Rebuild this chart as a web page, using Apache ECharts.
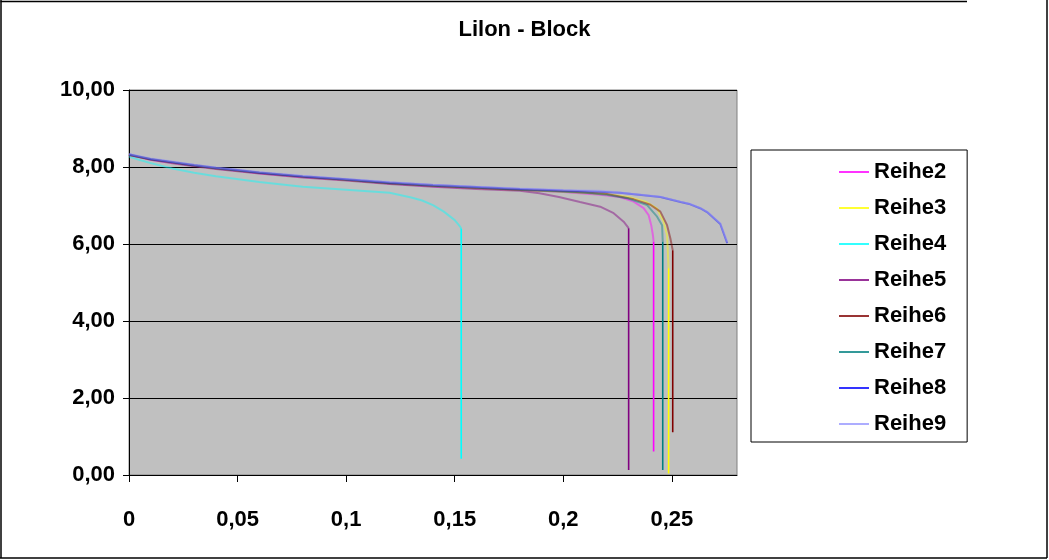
<!DOCTYPE html>
<html>
<head>
<meta charset="utf-8">
<script src="https://cdn.jsdelivr.net/npm/echarts@6/dist/echarts.min.js"></script>
<style>
html,body{margin:0;padding:0;background:#fff;}
#chart{width:1049px;height:560px;}
</style>
</head>
<body>
<div id="chart"></div>
<script>
// ---- data ----
const seriesNames = ['Reihe2','Reihe3','Reihe4','Reihe5','Reihe6','Reihe7','Reihe8','Reihe9'];
const seriesColors = ['#FF00FF','#FFFF00','#00FFFF','#800080','#800000','#008080','#0000FF','#9999FF'];

const r2x = [0,0.005,0.01,0.02,0.03,0.04,0.05,0.06,0.08,0.10,0.12,0.14,0.16,0.18,0.20,0.2076,0.217,0.226,0.2324,0.237,0.2393,0.2405,0.2413,0.2416];
const r2y = [8.31,8.25,8.19,8.11,8.03,7.96,7.90,7.84,7.74,7.66,7.57,7.50,7.45,7.40,7.35,7.32,7.28,7.22,7.10,6.93,6.75,6.49,6.22,6.06];
const r2drop = 0.61;

const r3x = [0,0.005,0.01,0.02,0.03,0.04,0.05,0.06,0.08,0.10,0.12,0.14,0.16,0.18,0.20,0.21,0.22,0.23,0.238,0.2432,0.2462,0.2478,0.2485];
const r3y = [8.32,8.26,8.20,8.12,8.04,7.97,7.91,7.85,7.75,7.66,7.58,7.51,7.45,7.40,7.36,7.33,7.29,7.22,7.10,6.92,6.58,6.23,5.37];
const r3drop = 0.04;

const r4x = [0,0.005,0.01,0.02,0.03,0.04,0.06,0.08,0.10,0.12,0.13,0.135,0.14,0.145,0.15,0.1525,0.153];
const r4y = [8.27,8.18,8.10,7.96,7.85,7.76,7.61,7.49,7.41,7.33,7.21,7.13,7.01,6.84,6.62,6.45,6.40];
const r4drop = 0.42;

const r5x = [0,0.005,0.01,0.02,0.03,0.04,0.05,0.06,0.08,0.10,0.12,0.14,0.16,0.18,0.189,0.198,0.2077,0.217,0.2232,0.2278,0.2301];
const r5y = [8.31,8.25,8.19,8.10,8.02,7.95,7.89,7.83,7.73,7.65,7.56,7.49,7.43,7.38,7.32,7.22,7.09,6.97,6.80,6.58,6.41];
const r5drop = 0.13;

const r6x = [0,0.005,0.01,0.02,0.03,0.04,0.05,0.06,0.08,0.10,0.12,0.14,0.16,0.18,0.20,0.21,0.22,0.2324,0.2401,0.2447,0.2478,0.2493,0.2504];
const r6y = [8.32,8.26,8.20,8.12,8.04,7.97,7.91,7.85,7.75,7.67,7.58,7.51,7.46,7.41,7.37,7.34,7.30,7.16,7.02,6.84,6.49,6.15,5.84];
const r6drop = 1.11;

const r7x = [0,0.005,0.01,0.02,0.03,0.04,0.05,0.06,0.08,0.10,0.12,0.14,0.16,0.18,0.20,0.21,0.22,0.23,0.2386,0.2432,0.2455,0.2458];
const r7y = [8.32,8.26,8.20,8.12,8.04,7.97,7.91,7.85,7.75,7.67,7.58,7.51,7.46,7.41,7.36,7.33,7.28,7.18,7.01,6.71,6.49,6.06];
const r7drop = 0.13;

const r8x = [0,0.005,0.01,0.02,0.03,0.04,0.05,0.06,0.08,0.10,0.12,0.14,0.16,0.18,0.20,0.217,0.226,0.2447,0.254,0.2585,0.263,0.2662,0.2723,0.2755];
const r8y = [8.33,8.27,8.21,8.13,8.05,7.98,7.92,7.86,7.76,7.68,7.60,7.53,7.48,7.43,7.39,7.36,7.33,7.22,7.09,7.03,6.93,6.83,6.52,6.02];
const r8drop = null;

const r9x = [0,0.005,0.01,0.02,0.03,0.04,0.05,0.06,0.08,0.10,0.12,0.14,0.16,0.18,0.20,0.217,0.226,0.2447,0.254,0.2585,0.263,0.2662,0.2723,0.2755];
const r9y = [8.34,8.28,8.22,8.14,8.06,7.99,7.93,7.87,7.77,7.69,7.61,7.54,7.49,7.44,7.40,7.38,7.34,7.23,7.10,7.04,6.94,6.84,6.54,6.06];
const r9drop = null;

const xTicks = [0,0.05,0.1,0.15,0.2,0.25];
const xTickLabels = ['0','0,05','0,1','0,15','0,2','0,25'];
const yTicks = [0,2,4,6,8,10];
const yTickLabels = ['0,00','2,00','4,00','6,00','8,00','10,00'];
const titleText = 'Lilon - Block';

// ---- build ----
const allX = [r2x,r3x,r4x,r5x,r6x,r7x,r8x,r9x];
const allY = [r2y,r3y,r4y,r5y,r6y,r7y,r8y,r9y];
const allDrop = [r2drop,r3drop,r4drop,r5drop,r6drop,r7drop,r8drop,r9drop];

const FONT = '"Liberation Sans", Arial, sans-serif';
const series = [];
seriesNames.forEach((name, i) => {
  const xs = allX[i], ys = allY[i];
  series.push({
    name, type: 'line', symbol: 'none', silent: true, animation: false,
    data: xs.map((x, k) => [x, ys[k]]),
    lineStyle: { color: seriesColors[i], width: 2, opacity: 0.45 },
    itemStyle: { color: seriesColors[i] },
    z: 2
  });
  if (allDrop[i] !== null) {
    const lx = xs[xs.length - 1], ly = ys[ys.length - 1];
    series.push({
      name, type: 'line', symbol: 'none', silent: true, animation: false,
      data: [[lx, ly], [lx, allDrop[i]]],
      lineStyle: { color: seriesColors[i], width: 1.6, opacity: 1 },
      itemStyle: { color: seriesColors[i] },
      z: 3
    });
  }
});

const chart = echarts.init(document.getElementById('chart'), null, { renderer: 'canvas' });
chart.setOption({
  backgroundColor: '#ffffff',
  animation: false,
  title: {
    text: titleText, left: 'center', top: 14,
    textStyle: { fontFamily: FONT, fontWeight: 'bold', fontSize: 22, color: '#000' }
  },
  grid: {
    left: 129, top: 90, width: 608, height: 385,
    show: true, backgroundColor: '#C0C0C0', borderColor: '#808080', borderWidth: 1
  },
  xAxis: {
    type: 'value', min: 0, max: 0.28, interval: 0.05,
    axisLine: { show: true, onZero: false, lineStyle: { color: '#000', width: 1 } },
    axisTick: { show: true, inside: false, length: 7, customValues: xTicks, lineStyle: { color: '#000' } },
    axisLabel: {
      customValues: xTicks, margin: 34,
      formatter: v => { const k = xTicks.findIndex(t => Math.abs(t - v) < 1e-9); return k >= 0 ? xTickLabels[k] : ''; },
      fontFamily: FONT, fontWeight: 'bold', fontSize: 22, color: '#000'
    },
    splitLine: { show: false }
  },
  yAxis: {
    type: 'value', min: 0, max: 10, interval: 2,
    axisLine: { show: true, lineStyle: { color: '#000', width: 1 } },
    axisTick: { show: true, inside: false, length: 6, lineStyle: { color: '#000' } },
    axisLabel: {
      margin: 14,
      formatter: v => { const k = yTicks.indexOf(v); return k >= 0 ? yTickLabels[k] : ''; },
      fontFamily: FONT, fontWeight: 'bold', fontSize: 22, color: '#000'
    },
    splitLine: { show: true, lineStyle: { color: '#000', width: 1 } }
  },
  legend: {
    orient: 'vertical', left: 751, top: 150,
    data: seriesNames,
    icon: 'rect',
    padding: [11, 21, 7, 88],
    itemWidth: 30, itemHeight: 1.6, itemGap: 14,
    itemStyle: { opacity: 1, borderWidth: 0 },
    backgroundColor: '#fff', borderColor: '#000', borderWidth: 1, borderRadius: 0,
    selectedMode: false,
    textStyle: { fontFamily: FONT, fontWeight: 'bold', fontSize: 22, lineHeight: 22, color: '#000', padding: [0,0,0,0] }
  },
  graphic: [
    { type: 'polyline', shape: { points: [[0.5,1.5],[967,1.5]] }, style: { stroke: '#000', lineWidth: 1.5, fill: null }, silent: true },
    { type: 'polyline', shape: { points: [[1,0],[1,558]] }, style: { stroke: '#000', lineWidth: 1.5, fill: null }, silent: true },
    { type: 'polyline', shape: { points: [[0,558],[1047,558]] }, style: { stroke: '#000', lineWidth: 1.5, fill: null }, silent: true },
    { type: 'polyline', shape: { points: [[1047,0],[1047,558]] }, style: { stroke: '#000', lineWidth: 1.5, fill: null }, silent: true }
  ],
  series
});
</script>
</body>
</html>
